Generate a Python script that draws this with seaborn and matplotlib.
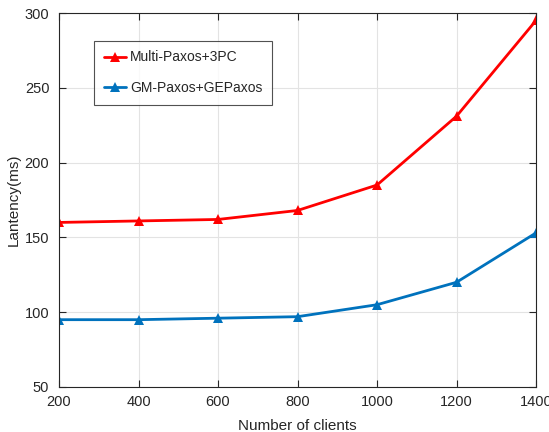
import matplotlib
matplotlib.use("Agg")
import matplotlib.pyplot as plt
import seaborn as sns
import pandas as pd

clients = [200, 400, 600, 800, 1000, 1200, 1400]
multi_paxos_3pc = [160, 161, 162, 168, 185, 231, 295]
gm_paxos_gepaxos = [95, 95, 96, 97, 105, 120, 153]
series_names = ["Multi-Paxos+3PC", "GM-Paxos+GEPaxos"]
series_colors = ["#ff0000", "#0072bd"]

df = pd.DataFrame({
    "clients": clients * 2,
    "latency": multi_paxos_3pc + gm_paxos_gepaxos,
    "method": [series_names[0]] * len(clients) + [series_names[1]] * len(clients),
})

sns.set_theme(style="whitegrid")
plt.rcParams["font.family"] = ["Liberation Sans", "DejaVu Sans"]

fig = plt.figure(figsize=(5.49, 4.32), dpi=100)
ax = fig.add_axes([59 / 549, 45 / 432, 477 / 549, 374 / 432])

sns.lineplot(data=df, x="clients", y="latency", hue="method",
             palette=dict(zip(series_names, series_colors)),
             marker="^", markersize=7.5, markeredgewidth=0,
             linewidth=2, ax=ax)

ax.set_xlim(200, 1400)
ax.set_ylim(50, 300)
ax.set_xticks(clients)
ax.set_yticks([50, 100, 150, 200, 250, 300])
ax.set_xlabel("Number of clients", fontsize=11, color="#262626", labelpad=7)
ax.set_ylabel("Lantency(ms)", fontsize=11, color="#262626", labelpad=3)

ax.grid(True, color="#e3e3e3", linewidth=0.8)
ax.set_facecolor("white")
for sp in ax.spines.values():
    sp.set_visible(True)
    sp.set_color("#262626")
    sp.set_linewidth(0.8)
ax.tick_params(axis="both", which="both", direction="in", length=5,
               color="#262626", labelsize=10.5, labelcolor="#262626",
               top=True, right=True, bottom=True, left=True, width=0.8)
ax.tick_params(axis="y", pad=7)
ax.tick_params(axis="x", pad=6)

leg = ax.legend(loc="upper left", bbox_to_anchor=(0.073, 0.926),
                fontsize=10, frameon=True, fancybox=False,
                handlelength=1.6, handletextpad=0.3, labelspacing=1.2,
                borderpad=0.7, borderaxespad=0)
leg.get_frame().set_edgecolor("#262626")
leg.get_frame().set_linewidth(0.8)
leg.set_title(None)

fig.savefig("out.png", dpi=100)
